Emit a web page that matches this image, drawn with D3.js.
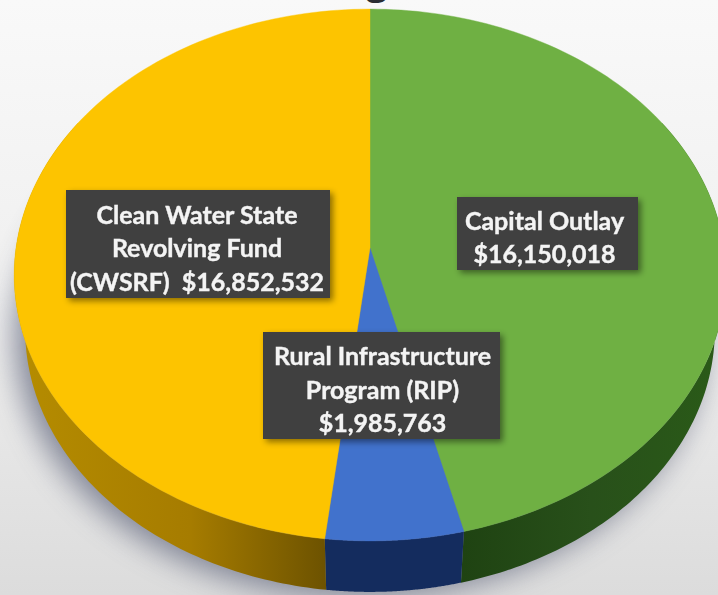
<!DOCTYPE html>
<html><head><meta charset="utf-8">
<style>html,body{margin:0;padding:0;background:#f1f1f1;overflow:hidden}</style>
<script src="https://cdn.jsdelivr.net/npm/d3@7"></script>
</head><body><svg id="c" width="718" height="595"></svg>
<script>
const categories = ["Capital Outlay", "Rural Infrastructure Program (RIP)", "Clean Water State Revolving Fund (CWSRF)"];
const values = [16150018, 1985763, 16852532];
const topColors = ["#6fb043", "#4172cc", "#fdc400"];
const sideColors = ["url(#sideG)", "#142c5e", "url(#sideY)"];
const labelLines = [
  ["Capital Outlay", "$16,150,018"],
  ["Rural Infrastructure", "Program (RIP)", "$1,985,763"],
  ["Clean Water State", "Revolving Fund", "(CWSRF)  $16,852,532"]
];
const labelBoxes = [
  [457, 197, 181, 73, -3],
  [263, 332, 237, 107, 1],
  [66, 190, 264, 108, -1]
];

const W = 718, H = 595;
const svg = d3.select("#c");
const defs = svg.append("defs");
const gradient = (id, attrs, stops) => {
  const g = defs.append("linearGradient").attr("id", id).attr("gradientUnits", "userSpaceOnUse");
  Object.entries(attrs).forEach(([k, v]) => g.attr(k, v));
  stops.forEach(([o, c]) => g.append("stop").attr("offset", o).attr("stop-color", c));
};
gradient("bg", {x1:0, x2:0, y1:0, y2:H}, [[0,"#f9f9f9"],[0.5,"#efefef"],[1,"#dcdcdc"]]);
gradient("sideY", {x1:20, x2:330, y1:0, y2:0}, [[0,"#b58c00"],[0.55,"#a67c00"],[1,"#6b5100"]]);
gradient("sideG", {x1:464, x2:718, y1:0, y2:0}, [[0,"#1f4312"],[0.5,"#28501a"],[1,"#2a5a18"]]);
const blur = defs.append("filter").attr("id","soft").attr("x","-20%").attr("y","-20%").attr("width","140%").attr("height","140%");
blur.append("feGaussianBlur").attr("stdDeviation",15);
const ds = defs.append("filter").attr("id","boxs").attr("x","-10%").attr("y","-10%").attr("width","125%").attr("height","125%");
ds.append("feDropShadow").attr("dx",3).attr("dy",3).attr("stdDeviation",3).attr("flood-color","#000").attr("flood-opacity",0.45);
const blur2 = defs.append("filter").attr("id","txt");
blur2.append("feGaussianBlur").attr("stdDeviation",0.4);

svg.append("rect").attr("width",W).attr("height",H).attr("fill","url(#bg)");

// Perspective disc: unit circle mapped through a homography
const cx = 370, R = 354, pa = 238, pb = 248, pc = -0.1015;
const project = a => {
  const u = Math.sin(a), v = -Math.cos(a), d = 1 + pc * v;
  return [cx + R * u / d, (pa * v + pb) / d];
};
// the lower rim of the disc is slightly smaller and further down
const rimK = 0.969, rimKy = 0.985, topCy = 275, rimCy = 330;
const projectRim = a => {
  const [x, y] = project(a);
  return [cx + (x - cx) * rimK, rimCy + (y - topCy) * rimKy];
};
const arcPts = (fn, a0, a1) => d3.range(0, 1.0001, 1 / 120).map(t => fn(a0 + (a1 - a0) * t));
const line = d3.line();

const pie = d3.pie().sort(null)(values);

// shadow beneath the disc
svg.append("path").attr("d", line(arcPts(projectRim, 0, 2 * Math.PI)) + "Z")
  .attr("fill", "#6f7488").attr("opacity", 0.85).attr("transform", "translate(-10,6)").attr("filter", "url(#soft)");

// side wall
const g = svg.append("g");
pie.forEach((s, i) => {
  const a0 = Math.max(s.startAngle, Math.PI / 3), a1 = Math.min(s.endAngle, Math.PI * 5 / 3);
  if (a1 <= a0) return;
  const top = arcPts(project, a0, a1), bot = arcPts(projectRim, a0, a1).reverse();
  g.append("path").attr("d", line(top.concat(bot)) + "Z").attr("fill", sideColors[i]);
});

// top face
pie.forEach((s, i) => {
  const rim = arcPts(project, s.startAngle, s.endAngle);
  g.append("path").attr("d", line([[cx, pb]].concat(rim)) + "Z").attr("fill", topColors[i]).attr("stroke", topColors[i]).attr("stroke-width", 0.4);
});

// labels
labelLines.forEach((lines, i) => {
  const [x, y, w, h, dx] = labelBoxes[i];
  svg.append("rect").attr("x", x).attr("y", y).attr("width", w).attr("height", h)
    .attr("fill", "#3f3f3f").attr("filter", "url(#boxs)");
  const lh = 33.5;
  const startY = y + h / 2 + 3 - (lines.length - 1) * lh / 2;
  lines.forEach((t, j) => {
    svg.append("text").attr("x", x + w / 2 + dx).attr("y", startY + j * lh)
      .attr("text-anchor", "middle").attr("dominant-baseline", "central")
      .attr("font-family", "Lato, 'Open Sans', sans-serif")
      .attr("font-weight", 700).attr("font-size", 25).attr("fill", "#f4f4f4")
      .attr("stroke", "#f4f4f4").attr("stroke-width", 0.4)
      .attr("filter", "url(#txt)").style("white-space", "pre").text(t);
  });
});

// foot of the cropped title
svg.append("text").attr("x", 377).attr("y", -6).attr("text-anchor", "middle")
  .attr("font-family", "'Open Sans', sans-serif").attr("font-weight", 700).attr("font-size", 38).attr("fill", "#2a2d33").text("g");
</script></body></html>
